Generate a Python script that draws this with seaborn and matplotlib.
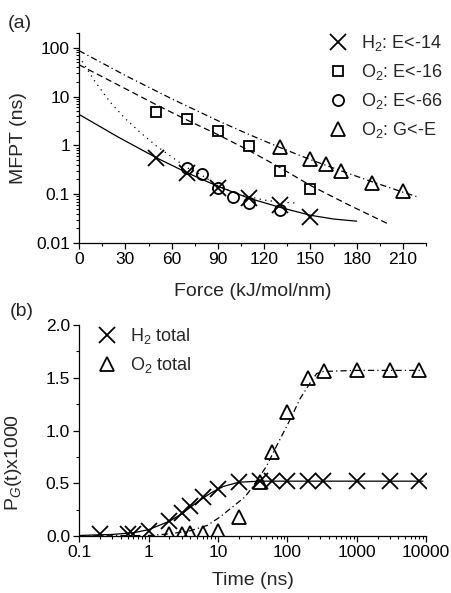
import matplotlib
matplotlib.use('Agg')
import matplotlib.pyplot as plt
import pandas as pd
import seaborn as sns
from matplotlib.ticker import LogLocator, FixedLocator, MultipleLocator, FuncFormatter, NullFormatter

# ---- panel (a): MFPT vs force ----
force_h2 = [50, 70, 90, 110, 130, 150]
mfpt_h2 = [0.55, 0.27, 0.135, 0.085, 0.06, 0.034]
force_o2_16 = [50, 70, 90, 110, 130, 150]
mfpt_o2_16 = [4.9, 3.4, 2.0, 0.95, 0.30, 0.13]
force_o2_66 = [70, 80, 90, 100, 110, 130]
mfpt_o2_66 = [0.34, 0.26, 0.135, 0.087, 0.066, 0.048]
force_o2_ge = [130, 150, 160, 170, 190, 210]
mfpt_o2_ge = [0.91, 0.52, 0.41, 0.30, 0.17, 0.115]

# fitted curves
fit_h2_f = [0, 25, 50, 70, 90, 110, 130, 150, 165, 180]
fit_h2_v = [4.3, 1.5, 0.56, 0.275, 0.145, 0.083, 0.054, 0.037, 0.031, 0.028]
fit_16_f = [0, 30, 50, 70, 90, 110, 130, 150, 175, 200]
fit_16_v = [44.7, 14.5, 6.8, 3.3, 1.66, 0.79, 0.355, 0.151, 0.060, 0.025]
fit_66_f = [0, 10, 20, 30, 40, 50, 60, 70, 80, 90, 100, 110, 120, 130, 140]
fit_66_v = [66, 21, 7.8, 3.5, 1.8, 0.98, 0.58, 0.35, 0.24, 0.15, 0.11, 0.089, 0.076, 0.069, 0.066]
fit_ge_f = [0, 30, 60, 90, 110, 130, 150, 170, 190, 210, 220]
fit_ge_v = [87, 27, 9.0, 3.2, 1.68, 0.91, 0.51, 0.30, 0.18, 0.11, 0.087]

# ---- panel (b): P_G(t) vs time ----
time_h2 = [0.2, 0.5, 0.6, 1, 2, 3, 4, 6, 10, 20, 40, 60, 100, 200, 330, 1000, 3000, 8000]
pg_h2 = [0.02, 0.02, 0.02, 0.05, 0.14, 0.22, 0.28, 0.37, 0.45, 0.51, 0.52, 0.52, 0.52, 0.52, 0.52, 0.52, 0.52, 0.52]
time_o2 = [2, 3, 4, 6, 10, 20, 40, 60, 100, 200, 340, 1000, 3000, 8000]
pg_o2 = [0.02, 0.02, 0.03, 0.03, 0.05, 0.18, 0.51, 0.80, 1.18, 1.50, 1.56, 1.57, 1.57, 1.57]

fitb_h2_t = [0.1, 0.3, 0.6, 1, 2, 3, 5, 8, 12, 20, 40, 100, 1000, 9000]
fitb_h2_v = [0.005, 0.015, 0.03, 0.06, 0.14, 0.21, 0.32, 0.41, 0.47, 0.51, 0.52, 0.52, 0.52, 0.52]
fitb_o2_t = [0.1, 1, 2, 4, 7, 10.7, 24.5, 32, 50, 66, 115, 152, 213, 265, 330, 1000, 9000]
fitb_o2_v = [0.0, 0.005, 0.02, 0.05, 0.10, 0.18, 0.37, 0.47, 0.66, 0.82, 1.13, 1.30, 1.45, 1.54, 1.56, 1.57, 1.57]

sns.set_style('ticks')
plt.rcParams['font.family'] = ['Liberation Sans', 'DejaVu Sans']
plt.rcParams['mathtext.fontset'] = 'custom'
plt.rcParams['mathtext.rm'] = 'Liberation Sans'
plt.rcParams['mathtext.it'] = 'Liberation Sans:italic'
plt.rcParams['axes.linewidth'] = 0.9
plt.rcParams['xtick.major.width'] = 0.9
plt.rcParams['ytick.major.width'] = 0.9
plt.rcParams['xtick.minor.width'] = 0.8
plt.rcParams['ytick.minor.width'] = 0.8
plt.rcParams['xtick.major.size'] = 4.5
plt.rcParams['ytick.major.size'] = 4.5
plt.rcParams['xtick.minor.size'] = 2.5
plt.rcParams['ytick.minor.size'] = 2.5
plt.rcParams['xtick.color'] = 'black'
plt.rcParams['ytick.color'] = 'black'
plt.rcParams['axes.edgecolor'] = 'black'

fig = plt.figure(figsize=(4.52, 5.93), dpi=100)
ax_a = fig.add_axes([0.175, 0.5902, 0.7677, 0.3541])
ax_b = fig.add_axes([0.175, 0.0961, 0.7677, 0.3558])

lw = 0.9
mk = dict(linestyle='none', color='black', markerfacecolor='none', markeredgecolor='black', markeredgewidth=1.3)

# panel (a) curves
curves_a = [
    (fit_h2_f, fit_h2_v, '-'),
    (fit_16_f, fit_16_v, (0, (5, 3))),
    (fit_66_f, fit_66_v, (0, (1, 3.5))),
    (fit_ge_f, fit_ge_v, (0, (5, 2.5, 1, 2.5))),
]
for f, v, ls in curves_a:
    d = pd.DataFrame({'force': f, 'mfpt': v})
    sns.lineplot(data=d, x='force', y='mfpt', ax=ax_a, color='black', linewidth=lw, linestyle=ls, sort=False)

ax_a.plot(force_h2, mfpt_h2, marker='x', markersize=11, label='H$_2$: E<-14', **mk)
ax_a.plot(force_o2_16, mfpt_o2_16, marker='s', markersize=7.5, label='O$_2$: E<-16', **mk)
ax_a.plot(force_o2_66, mfpt_o2_66, marker='o', markersize=8, label='O$_2$: E<-66', **mk)
ax_a.plot(force_o2_ge, mfpt_o2_ge, marker='^', markersize=9.5, label='O$_2$: G<-E', **mk)

ax_a.set_yscale('log')
ax_a.set_xlim(0, 225)
ax_a.set_ylim(0.01, 200)
ax_a.xaxis.set_major_locator(MultipleLocator(30))
ax_a.xaxis.set_minor_locator(MultipleLocator(15))
ax_a.yaxis.set_major_locator(FixedLocator([0.01, 0.1, 1, 10, 100]))
ax_a.yaxis.set_minor_locator(LogLocator(base=10, subs=range(2, 10)))
ax_a.yaxis.set_major_formatter(FuncFormatter(lambda v, p: f'{v:g}'))
ax_a.yaxis.set_minor_formatter(NullFormatter())
ax_a.tick_params(labelsize=12.5, pad=2)
ax_a.set_xlabel('Force (kJ/mol/nm)', fontsize=14)
ax_a.set_ylabel('MFPT (ns)', fontsize=14)
ax_a.xaxis.set_label_coords(0.5, -0.229)
ax_a.xaxis.label.set_va('center')
ax_a.yaxis.set_label_coords(-0.176, 0.5)
ax_a.yaxis.label.set_va('center')
sns.despine(ax=ax_a)
ax_a.legend(loc='upper left', bbox_to_anchor=(329 / 452, 1 - 33 / 593), bbox_transform=fig.transFigure,
            frameon=False, fontsize=13, numpoints=1, handlelength=1.0, handletextpad=0.75,
            labelspacing=0.5, borderaxespad=0, borderpad=0)

# panel (b) curves
curves_b = [
    (fitb_h2_t, fitb_h2_v, '-'),
    (fitb_o2_t, fitb_o2_v, (0, (5, 2.5, 1, 2.5))),
]
for t, v, ls in curves_b:
    d = pd.DataFrame({'time': t, 'pg': v})
    sns.lineplot(data=d, x='time', y='pg', ax=ax_b, color='black', linewidth=lw, linestyle=ls, sort=False)

ax_b.plot(time_h2, pg_h2, marker='x', markersize=11, label='H$_2$ total', **mk)
ax_b.plot(time_o2, pg_o2, marker='^', markersize=10.5, label='O$_2$ total', **mk)

ax_b.set_xscale('log')
ax_b.set_xlim(0.1, 10000)
ax_b.set_ylim(0, 2.0)
ax_b.xaxis.set_major_locator(FixedLocator([0.1, 1, 10, 100, 1000, 10000]))
ax_b.xaxis.set_minor_locator(LogLocator(base=10, subs=range(2, 10)))
ax_b.xaxis.set_major_formatter(FuncFormatter(lambda v, p: f'{v:g}'))
ax_b.xaxis.set_minor_formatter(NullFormatter())
ax_b.yaxis.set_major_locator(MultipleLocator(0.5))
ax_b.yaxis.set_minor_locator(MultipleLocator(0.25))
ax_b.yaxis.set_major_formatter(FuncFormatter(lambda v, p: f'{v:.1f}'))
ax_b.tick_params(labelsize=12.5, pad=2)
ax_b.set_xlabel('Time (ns)', fontsize=14)
ax_b.set_ylabel('P$_G$(t)x1000', fontsize=14)
ax_b.xaxis.set_label_coords(0.5, -0.209)
ax_b.xaxis.label.set_va('center')
ax_b.yaxis.set_label_coords(-0.19, 0.35)
ax_b.yaxis.label.set_va('center')
sns.despine(ax=ax_b)
ax_b.legend(loc='upper left', bbox_to_anchor=(98 / 452, 1 - 326 / 593), bbox_transform=fig.transFigure,
            frameon=False, fontsize=13, numpoints=1, handlelength=1.0, handletextpad=0.75,
            labelspacing=0.5, borderaxespad=0, borderpad=0)

fig.text(8 / 452, 1 - 23 / 593, '(a)', fontsize=14, va='center', ha='left')
fig.text(10 / 452, 1 - 312 / 593, '(b)', fontsize=14, va='center', ha='left')

fig.savefig('out.png', dpi=100)
